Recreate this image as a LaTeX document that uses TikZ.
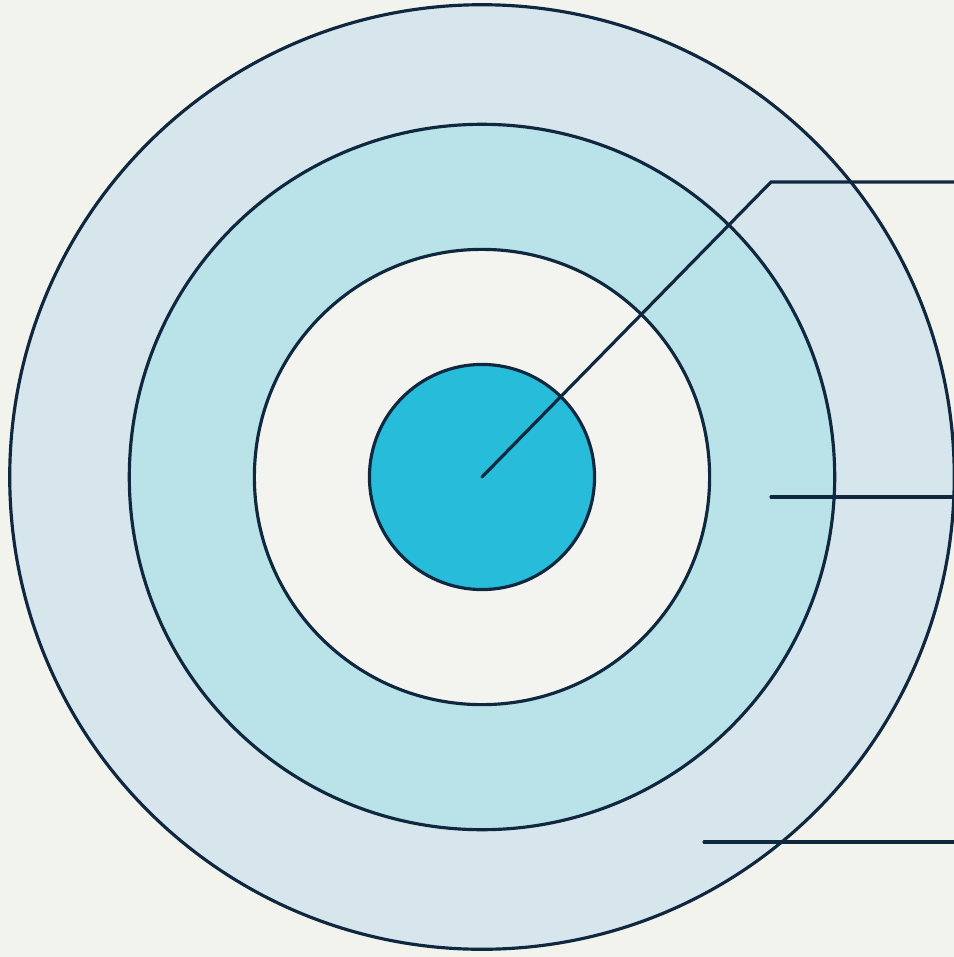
\documentclass[tikz,border=0pt]{standalone}
\usepackage{tikz}
\usepackage{xcolor}
\usetikzlibrary{positioning,calc}
\definecolor{paper}{HTML}{F3F3EE}
\definecolor{ringouter}{HTML}{D7E5EC}
\definecolor{ringmid}{HTML}{B9E3E8}
\definecolor{ringinner}{HTML}{F3F4EF}
\definecolor{corefill}{HTML}{27BCD9}
\definecolor{inkline}{HTML}{0F2840}

\begin{document}
\begin{tikzpicture}[x=0.01cm,y=-0.01cm,
    ring/.style={draw=inkline,line width=0.9pt,circle,inner sep=0pt,outer sep=0pt},
    leader/.style={draw=inkline,line width=0.9pt,line cap=round}]
        \fill[paper] (0,0) rectangle (954,957);
        \useasboundingbox (0,0) rectangle (954,957);
        \node[ring,fill=ringouter,minimum size=9.44cm] (outer) at (482,477) {};
        \node[ring,fill=ringmid,minimum size=7.05cm] (mid) at (482,477) {};
        \node[ring,fill=ringinner,minimum size=4.55cm] (inner) at (482,477) {};
        \node[ring,fill=corefill,minimum size=2.25cm] (core) at (482,477) {};
        \coordinate (bend) at (771,182);
        \coordinate (tipcore) at (960,182);
        \coordinate (startmid) at (771,497);
        \coordinate (tipmid) at (960,497);
        \coordinate (startouter) at (704,842);
        \coordinate (tipouter) at (960,842);
        \draw[leader] (core.center) -- (bend) -- (tipcore);
        \draw[leader] (startmid) -- (tipmid);
        \draw[leader] (startouter) -- (tipouter);
      \end{tikzpicture}
\end{document}
